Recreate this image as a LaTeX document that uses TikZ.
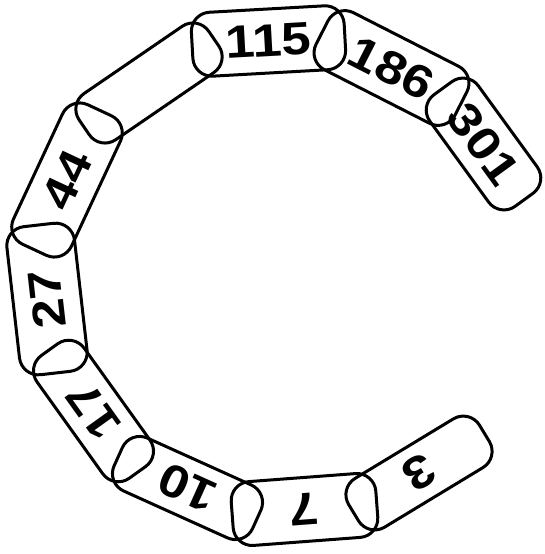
\documentclass[tikz,border=0pt]{standalone}
\usepackage{fontspec}
\setmainfont{Liberation Sans}

\begin{document}
\begin{tikzpicture}[
  x=1pt, y=-1pt,
  chainlink/.style={draw, line width=3pt, rounded corners=19pt, inner sep=0pt,
    font=\fontsize{46pt}{46pt}\selectfont\addfontfeature{FakeStretch=1.15}\bfseries},
]
\useasboundingbox (0,0) rectangle (544,554);

% ===== links, from the open end at bottom right round to the right =====
\node[chainlink, minimum width=153pt, minimum height=57pt, rotate=211.2] (l3) at (419,473) {3};
\node[chainlink, minimum width=145pt, minimum height=64pt, rotate=184.3] (l7) at (304.5,509.5) {7};
\node[chainlink, minimum width=152pt, minimum height=58pt, rotate=155.7] (l10) at (187.5,488) {10};
\node[chainlink, minimum width=151pt, minimum height=58pt, rotate=125.6] (l17) at (93.5,411) {17};
\node[chainlink, minimum width=149pt, minimum height=68pt, rotate=96.5] (l27) at (47,299) {27};
\node[chainlink, minimum width=154pt, minimum height=64pt, rotate=65] (l44) at (67,180) {44};
\node[chainlink, minimum width=157pt, minimum height=56pt, rotate=34.4] (lx) at (149,83) {};
\node[chainlink, minimum width=153pt, minimum height=64pt, rotate=3.2] (l115) at (268.5,41) {115};
\node[chainlink, minimum width=156pt, minimum height=64pt, rotate=-27] (l186) at (391.5,68) {186};
\node[chainlink, minimum width=138pt, minimum height=60pt, rotate=-54] (l301) at (483.5,144) {301};

\end{tikzpicture}
\end{document}
